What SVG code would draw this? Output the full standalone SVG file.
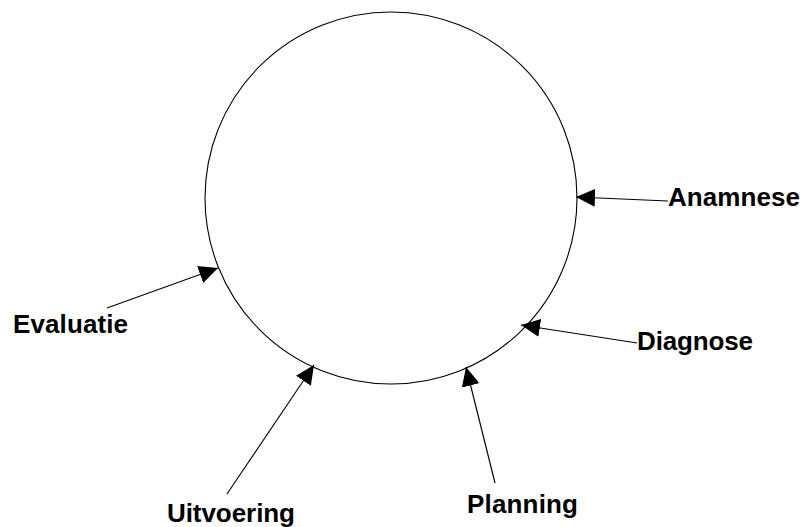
<svg xmlns="http://www.w3.org/2000/svg" width="805" height="527" viewBox="0 0 805 527">
<style>
.lbl{font-family:"Liberation Sans",Arial,sans-serif;font-weight:bold;font-size:26px;fill:#000}
.conn{stroke:#000;stroke-width:1.1;fill:none;marker-end:url(#ah)}
</style>
<defs>
<marker id="ah" markerUnits="userSpaceOnUse" markerWidth="20" markerHeight="18" refX="19" refY="9" orient="auto">
<path d="M0,0 L19,9 L0,18 z" fill="#000"/>
</marker>
</defs>
<rect width="805" height="527" fill="#fff"/>
<g id="cycle"><circle cx="391" cy="198" r="186" fill="#fff" stroke="#000" stroke-width="1.1"/></g>
<g id="connectors">
<line class="conn" x1="668" y1="201" x2="576" y2="197"/>
<line class="conn" x1="637" y1="343" x2="521" y2="325"/>
<line class="conn" x1="495" y1="483" x2="466" y2="367"/>
<line class="conn" x1="227" y1="494" x2="314" y2="365"/>
<line class="conn" x1="107" y1="308" x2="218" y2="268"/>
</g>
<g id="anamnese"><text class="lbl" x="668" y="206" textLength="132">Anamnese</text></g>
<g id="diagnose"><text class="lbl" x="637" y="350" textLength="116">Diagnose</text></g>
<g id="planning"><text class="lbl" x="467" y="513" textLength="111">Planning</text></g>
<g id="uitvoering"><text class="lbl" x="167" y="522" textLength="128">Uitvoering</text></g>
<g id="evaluatie"><text class="lbl" x="13" y="333" textLength="115">Evaluatie</text></g>
</svg>
